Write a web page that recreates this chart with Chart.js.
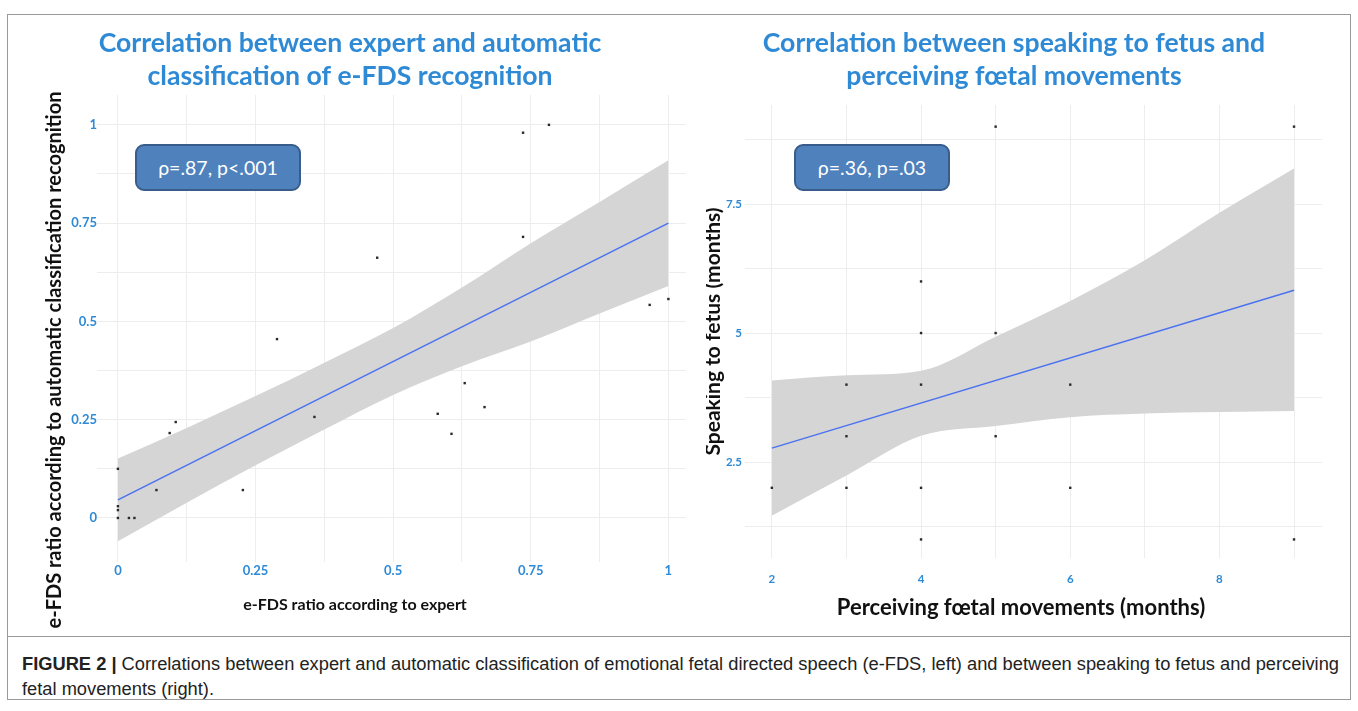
<!DOCTYPE html>
<html>
<head>
<meta charset="utf-8">
<script src="https://cdn.jsdelivr.net/npm/chart.js"></script>
<style>
    body { margin: 0; background: #fff; width: 1358px; height: 711px; position: relative; overflow: hidden; }
    .frame { position: absolute; left: 7px; top: 14px; width: 1344px; height: 686px; border: 1px solid #9a9a9a; box-sizing: border-box; }
    .divider { position: absolute; left: 7px; top: 636px; width: 1344px; border-top: 1px solid #9a9a9a; }
    .chart-box { position: absolute; top: 15px; height: 620px; }
    .stat-box { position: absolute; height: 47px; background: #4f81bd; border: 2px solid #385d8a; border-radius: 9px; box-sizing: border-box;
        color: #fff; font-family: Lato, sans-serif; font-size: 19.5px; line-height: 43px; text-align: center; }
    .caption { position: absolute; left: 22px; top: 651px; font-family: "Liberation Sans", Arial, sans-serif; font-size: 18.3px; color: #222; line-height: 25px; white-space: nowrap; }
</style>
</head>
<body>
<div class="frame"></div>
<div class="divider"></div>

<div class="chart-box" style="left:10px;width:680px;"><canvas id="leftChart" width="680" height="620"></canvas></div>
<div class="chart-box" style="left:706px;width:644px;"><canvas id="rightChart" width="644" height="620"></canvas></div>

<div class="stat-box" style="left:135px;top:144px;width:166px;">ρ=.87, p&lt;.001</div>
<div class="stat-box" style="left:794px;top:144px;width:156px;">ρ=.36, p=.03</div>

<div class="caption" id="caption"><b>FIGURE 2 |</b> Correlations between expert and automatic classification of emotional fetal directed speech (e-FDS, left) and between speaking to fetus and perceiving<br>fetal movements (right).</div>

<script>
// --- left panel: expert vs automatic ---
const leftX = [0, 0, 0, 0, 0.02, 0.03, 0.07, 0.094, 0.105, 0.227, 0.289, 0.357, 0.471, 0.581, 0.606, 0.63, 0.666, 0.736, 0.736, 0.783, 0.966, 1.0];
const leftY = [0.125, 0.03, 0.02, 0, 0, 0, 0.071, 0.216, 0.244, 0.071, 0.455, 0.257, 0.662, 0.265, 0.214, 0.343, 0.282, 0.98, 0.715, 1.0, 0.542, 0.557];
const leftFitX = [0, 1];
const leftFitY = [0.046, 0.75];
const leftBandX = [0, 0.125, 0.25, 0.375, 0.5, 0.625, 0.75, 0.875, 1];
const leftUpper = [0.151, 0.229, 0.31, 0.395, 0.483, 0.586, 0.699, 0.804, 0.91];
const leftLower = [-0.059, 0.039, 0.134, 0.225, 0.313, 0.386, 0.449, 0.52, 0.59];
const leftTicks = [0, 0.125, 0.25, 0.375, 0.5, 0.625, 0.75, 0.875, 1];

// --- right panel: speaking vs perceiving movements ---
const rightX = [2, 3, 3, 3, 4, 4, 4, 4, 4, 5, 5, 5, 6, 6, 9, 9];
const rightY = [2, 4, 3, 2, 6, 5, 4, 2, 1, 9, 5, 3, 4, 2, 9, 1];
const rightFitX = [2, 9];
const rightFitY = [2.77, 5.83];
const rightBandX = [2, 3, 4, 5, 6, 7, 8, 9];
const rightUpper = [4.08, 4.18, 4.27, 4.93, 5.62, 6.41, 7.33, 8.19];
const rightLower = [1.46, 2.24, 3.01, 3.2, 3.37, 3.44, 3.47, 3.49];
const rightXTicks = [2, 3, 4, 5, 6, 7, 8, 9];
const rightYTicks = [1.25, 2.5, 3.75, 5, 6.25, 7.5, 8.75];

const blue = '#2f8ad6';
const gridColor = '#ededed';

// axis titles in the figure are not centred on the plot, so draw them where they sit
const freeTitles = {
    id: 'freeTitles',
    afterDraw(chart, args, opts) {
        const ctx = chart.ctx;
        (opts.items || []).forEach(t => {
            ctx.save();
            ctx.font = 'bold ' + t.size + 'px Lato';
            ctx.fillStyle = '#111';
            ctx.textAlign = 'center';
            ctx.textBaseline = 'middle';
            ctx.translate(t.x, t.y);
            if (t.rotate) ctx.rotate(-Math.PI / 2);
            ctx.fillText(t.text, 0, 0);
            ctx.restore();
        });
    }
};

function pts(xs, ys) {
    return xs.map((x, i) => ({ x: x, y: ys[i] }));
}

function makeChart(canvasId, cfg) {
    const ctx = document.getElementById(canvasId).getContext('2d');
    return new Chart(ctx, {
        type: 'scatter',
        plugins: [freeTitles],
        data: {
            datasets: [
                {
                    data: pts(cfg.x, cfg.y),
                    pointStyle: 'rect',
                    pointRadius: 1.7,
                    backgroundColor: '#2a2a2a',
                    borderColor: '#2a2a2a',
                    borderWidth: 0
                },
                {
                    data: pts(cfg.fitX, cfg.fitY),
                    showLine: true,
                    borderColor: '#4a72f0',
                    borderWidth: 1.5,
                    pointRadius: 0
                },
                {
                    data: pts(cfg.bandX, cfg.upper),
                    showLine: true,
                    borderWidth: 0,
                    pointRadius: 0,
                    cubicInterpolationMode: 'monotone',
                    backgroundColor: '#d5d5d5',
                    fill: '+1'
                },
                {
                    data: pts(cfg.bandX, cfg.lower),
                    showLine: true,
                    borderWidth: 0,
                    pointRadius: 0,
                    cubicInterpolationMode: 'monotone'
                }
            ]
        },
        options: {
            responsive: false,
            animation: false,
            layout: { padding: cfg.padding },
            plugins: {
                legend: { display: false },
                tooltip: { enabled: false },
                freeTitles: { items: cfg.freeTitles },
                title: {
                    display: true,
                    text: cfg.title,
                    color: blue,
                    font: { family: 'Lato', size: 26.6, weight: 'bold', lineHeight: 1.24 },
                    padding: { top: 12, bottom: cfg.titleBottom }
                }
            },
            scales: {
                x: {
                    type: 'linear',
                    min: cfg.xMin,
                    max: cfg.xMax,
                    afterBuildTicks: axis => { axis.ticks = cfg.xTicks.map(v => ({ value: v })); },
                    afterFit: scale => { scale.height = cfg.xHeight; },
                    border: { display: false },
                    grid: { color: gridColor, drawTicks: false },
                    ticks: {
                        color: blue,
                        padding: cfg.xTickPad,
                        maxRotation: 0,
                        font: { family: 'Lato', size: cfg.tickSize, weight: 'bold' },
                        callback: cfg.xLabel
                    }
                },
                y: {
                    type: 'linear',
                    min: cfg.yMin,
                    max: cfg.yMax,
                    afterBuildTicks: axis => { axis.ticks = cfg.yTicks.map(v => ({ value: v })); },
                    afterFit: scale => { scale.width = cfg.yWidth; },
                    border: { display: false },
                    grid: { color: gridColor, drawTicks: false },
                    ticks: {
                        color: blue,
                        padding: cfg.yTickPad,
                        font: { family: 'Lato', size: cfg.tickSize, weight: 'bold' },
                        callback: cfg.yLabel
                    },
                    title: {
                        display: !!cfg.yTitle,
                        text: cfg.yTitle,
                        color: '#111',
                        padding: { top: cfg.yTitlePad, bottom: 0 },
                        font: { family: 'Lato', size: cfg.yTitleSize, weight: 'bold' }
                    }
                }
            }
        }
    });
}

const quarterLabel = v => (Math.abs(v * 4 - Math.round(v * 4)) < 1e-9 ? String(v) : '');

makeChart('leftChart', {
    x: leftX, y: leftY, fitX: leftFitX, fitY: leftFitY,
    bandX: leftBandX, upper: leftUpper, lower: leftLower,
    title: ['Correlation between expert and automatic', 'classification of e-FDS recognition'],
    titleBottom: 2,
    padding: { left: 0, right: 0, top: 0, bottom: 21 },
    xMin: -0.038, xMax: 1.032, yMin: -0.112, yMax: 1.076,
    xTicks: leftTicks, yTicks: leftTicks,
    xHeight: 52, yWidth: 87, xTickPad: 1, yTickPad: 0, tickSize: 13,
    xLabel: quarterLabel, yLabel: quarterLabel,
    freeTitles: [
        { text: 'e-FDS ratio according to expert', size: 16, x: 345, y: 590 },
        { text: 'e-FDS ratio according to automatic classification recognition', size: 20, x: 45, y: 345, rotate: true }
    ]
});

makeChart('rightChart', {
    x: rightX, y: rightY, fitX: rightFitX, fitY: rightFitY,
    bandX: rightBandX, upper: rightUpper, lower: rightLower,
    title: ['Correlation between speaking to fetus and', 'perceiving fœtal movements'],
    titleBottom: 12,
    padding: { left: 0, right: 28, top: 0, bottom: 16 },
    xMin: 1.64, xMax: 9.375, yMin: 0.64, yMax: 9.42,
    xTicks: rightXTicks, yTicks: rightYTicks,
    xHeight: 61, yWidth: 39, xTickPad: 14, yTickPad: 3, tickSize: 11.5,
    xLabel: v => (v % 2 === 0 ? String(v) : ''),
    yLabel: v => (Math.abs(v / 2.5 - Math.round(v / 2.5)) < 1e-9 ? String(v) : ''),
    yTitle: 'Speaking to fetus (months)', yTitleSize: 21, yTitlePad: -5,
    freeTitles: [
        { text: 'Perceiving fœtal movements (months)', size: 22, x: 315, y: 593 }
    ]
});
</script>
</body>
</html>
